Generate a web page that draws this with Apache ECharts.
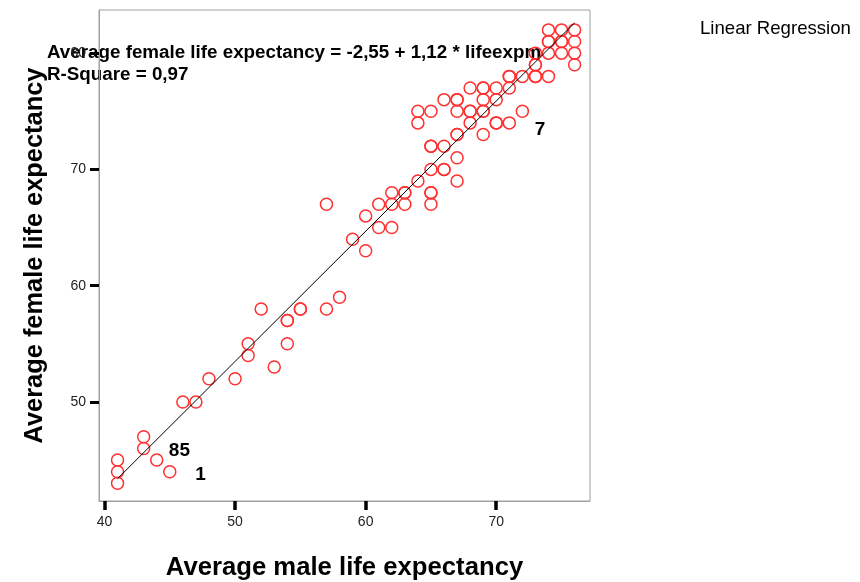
<!DOCTYPE html>
<html>
	<head>
		<meta charset="utf-8">
		<title>life expectancy</title>
		<script src="https://cdn.jsdelivr.net/npm/echarts@6/dist/echarts.min.js"></script>
	</head>
	<body style="margin: 0;">
		<div id="box" style="width: 860px;height: 582px;"></div>
		<script>
			var mCharts = echarts.init(document.querySelector('#box'))

			// 男性 / 女性 平均寿命
			var maleLife = [
				41, 41, 41, 43, 43, 44, 45, 46, 47, 48, 50,
				51, 51, 53, 52, 54, 54, 54, 55, 55, 57, 58,
				57, 59, 60, 60, 61, 61, 62, 62, 62, 63, 63, 63,
				64, 65, 65, 65, 65, 66, 66, 67, 67, 65, 65, 66, 67, 67, 69,
				64, 64, 65, 67, 68, 68, 69, 69, 68, 70, 70, 71, 72,
				66, 67, 67, 69, 70,
				68, 69, 69, 70, 71,
				71, 71, 72, 73, 73, 74,
				73, 73, 76, 73,
				74, 75, 76,
				74, 74, 75, 75, 76,
				74, 75, 76
			]
			var femaleLife = [
				45, 44, 43, 47, 46, 45, 44, 50, 50, 52, 52,
				55, 54, 53, 58, 57, 57, 55, 58, 58, 58, 59,
				67, 64, 66, 63, 67, 65, 65, 67, 68, 68, 68, 67,
				69, 68, 68, 67, 70, 70, 70, 69, 71, 72, 72, 72, 73, 73, 73,
				74, 75, 75, 75, 75, 75, 75, 75, 74, 74, 74, 74, 75,
				76, 76, 76, 76, 76,
				77, 77, 77, 77, 77,
				78, 78, 78, 78, 78, 78,
				79, 79, 79, 80,
				80, 80, 80,
				81, 81, 81, 81, 81,
				82, 82, 82
			]

			// 回归线两端
			var fitX = [41, 76]
			var fitY = [43.4, 82.6]

			// 个案标签
			var caseNames = ['85', '1', '7']
			var caseX = [45.74, 47.35, 73.36]
			var caseY = [45.76, 43.7, 73.4]

			var xTicks = [40, 50, 60, 70]
			var yTicks = [50, 60, 70, 80]

			var pointData = maleLife.map(function (m, i) { return [m, femaleLife[i]] })
			var fitData = fitX.map(function (x, i) { return [x, fitY[i]] })
			var caseData = caseNames.map(function (n, i) { return { name: n, value: [caseX[i], caseY[i]] } })

			var font = 'Liberation Sans, Arial, sans-serif'

			var option = {
				animation: false,
				textStyle: { fontFamily: font },
				grid: {
					left: 99,
					top: 10,
					right: 270,
					bottom: 81,
					outerBoundsMode: 'none',
					containLabel: false,
					show: true,
					borderColor: '#a0a0a0',
					borderWidth: 1
				},
				xAxis: {
					type: 'value',
					min: 39.58,
					max: 77.18,
					splitLine: { show: false },
					axisLine: { lineStyle: { color: '#a0a0a0' } },
					axisTick: { customValues: xTicks, length: 9, lineStyle: { color: '#000', width: 3.5 } },
					axisLabel: { customValues: xTicks, color: '#222', fontSize: 14, margin: 14 },
					name: 'Average male life expectancy',
					nameLocation: 'middle',
					nameGap: 54,
					nameTextStyle: { fontSize: 25.7, fontWeight: 'bold', color: '#000' }
				},
				yAxis: {
					type: 'value',
					min: 41.48,
					max: 83.71,
					splitLine: { show: false },
					axisLine: { show: true, lineStyle: { color: '#a0a0a0' } },
					axisTick: { show: true, customValues: yTicks, length: 9, lineStyle: { color: '#000', width: 3 } },
					axisLabel: { customValues: yTicks, color: '#222', fontSize: 14, margin: 13 },
					name: 'Average female life expectancy',
					nameLocation: 'middle',
					nameGap: 52,
					nameTextStyle: { fontSize: 25.4, fontWeight: 'bold', color: '#000' }
				},
				series: [
					{
						type: 'scatter',
						data: pointData,
						symbol: 'circle',
						symbolSize: 12,
						itemStyle: { color: 'transparent', borderColor: '#ff3030', borderWidth: 1.5, opacity: 1 }
					},
					{
						type: 'line',
						data: fitData,
						showSymbol: false,
						lineStyle: { color: '#000', width: 1 }
					},
					{
						type: 'scatter',
						data: caseData,
						symbolSize: 0,
						itemStyle: { opacity: 1 },
						label: {
							show: true,
							formatter: '{b}',
							color: '#000',
							fontSize: 19,
							fontWeight: 'bold'
						}
					}
				],
				graphic: [
					{
						type: 'text',
						left: 47,
						top: 43,
						style: {
							text: 'Average female life expectancy = -2,55 + 1,12 * lifeexpm',
							font: 'bold 18.8px ' + font,
							fill: '#000'
						}
					},
					{
						type: 'text',
						left: 47,
						top: 65,
						style: {
							text: 'R-Square = 0,97',
							font: 'bold 18.8px ' + font,
							fill: '#000'
						}
					},
					{
						type: 'text',
						left: 700,
						top: 19,
						style: {
							text: 'Linear Regression',
							font: '18.6px ' + font,
							fill: '#000'
						}
					}
				]
			}
			mCharts.setOption(option)
		</script>
	</body>
</html>
